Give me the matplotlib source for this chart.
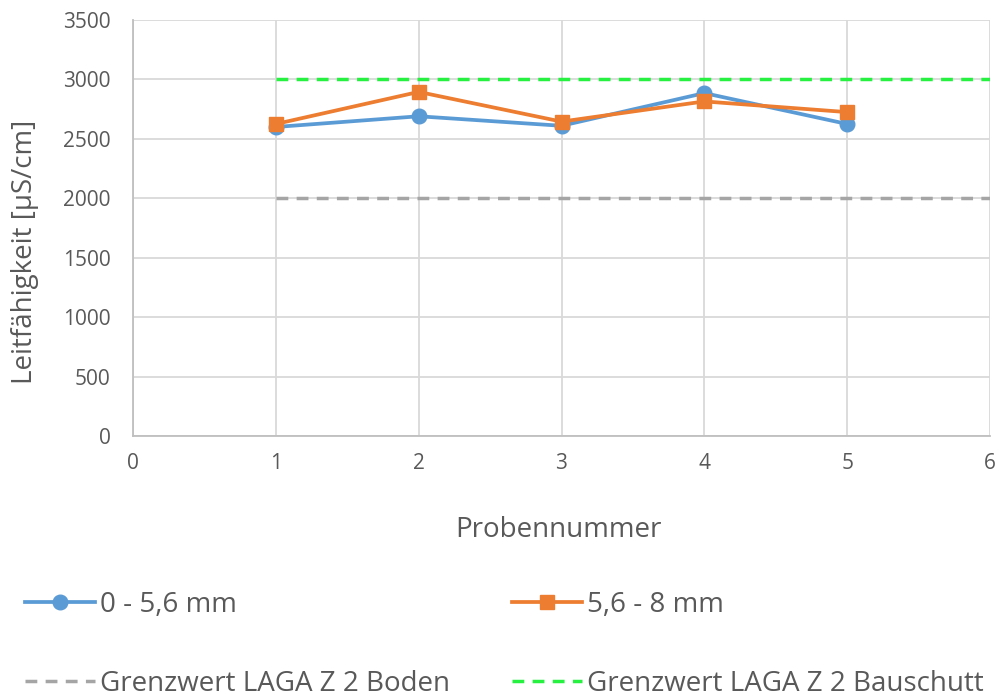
import matplotlib
matplotlib.use("Agg")
import matplotlib.pyplot as plt

plt.rcParams['font.family'] = ['Open Sans', 'DejaVu Sans']

# Sample numbers and measured conductivity per grain size fraction
proben = [1, 2, 3, 4, 5]
fraktion_0_56 = [2600, 2690, 2610, 2885, 2625]
fraktion_56_8 = [2625, 2895, 2645, 2815, 2725]

# Limit values (LAGA Z 2), drawn from sample 1 to 6
grenz_x = [1, 6]
grenz_boden = [2000, 2000]
grenz_bauschutt = [3000, 3000]

labels = ['0 - 5,6 mm', '5,6 - 8 mm',
          'Grenzwert LAGA Z 2 Boden', 'Grenzwert LAGA Z 2 Bauschutt']
x_ticks = [0, 1, 2, 3, 4, 5, 6]
y_ticks = [0, 500, 1000, 1500, 2000, 2500, 3000, 3500]

text_col = '#595959'

fig = plt.figure(figsize=(9.99, 7.0), dpi=100)
ax = fig.add_axes([133 / 999, 1 - 436 / 700, 857 / 999, 416 / 700])

dash = (0, (3.4, 2.4))
l_boden, = ax.plot(grenz_x, grenz_boden, color='#A5A5A5', lw=2.5,
                   linestyle=dash, label=labels[2], zorder=3)
l_bau, = ax.plot(grenz_x, grenz_bauschutt, color='#26F040', lw=2.5,
                 linestyle=dash, label=labels[3], zorder=3)
l_a, = ax.plot(proben, fraktion_0_56, color='#5B9BD5', lw=2.7,
               marker='o', markersize=10.5, label=labels[0], zorder=4)
l_b, = ax.plot(proben, fraktion_56_8, color='#ED7D31', lw=2.7,
               marker='s', markersize=10, label=labels[1], zorder=5)

ax.set_xlim(0, 6)
ax.set_ylim(0, 3500)
ax.set_xticks(x_ticks)
ax.set_yticks(y_ticks)
ax.grid(True, color='#D9D9D9', lw=1.3)
ax.set_axisbelow(True)
for s in ['top', 'right']:
    ax.spines[s].set_visible(False)
for s in ['left', 'bottom']:
    ax.spines[s].set_color('#BFBFBF')
    ax.spines[s].set_linewidth(1.3)
ax.tick_params(axis='both', length=0, labelsize=15, colors=text_col)
ax.tick_params(axis='y', pad=16)
ax.tick_params(axis='x', pad=12)

ax.set_xlabel('Probennummer', fontsize=20, color=text_col, va='top')
ax.xaxis.set_label_coords(0.497, -0.193)
ax.set_ylabel('Leitfähigkeit [µS/cm]', fontsize=20, color=text_col)
ax.yaxis.set_label_coords(-0.110, 0.442)

leg = fig.legend(handles=[l_a, l_boden, l_b, l_bau], ncol=2,
                 loc='upper left', bbox_to_anchor=(25 / 999, 1 - 591 / 700),
                 frameon=False, fontsize=20, labelcolor=text_col,
                 handlelength=2.52, handletextpad=0.18, columnspacing=2.23,
                 labelspacing=1.82, borderpad=0, borderaxespad=0)

fig.savefig('out.png', dpi=100, facecolor='white')
